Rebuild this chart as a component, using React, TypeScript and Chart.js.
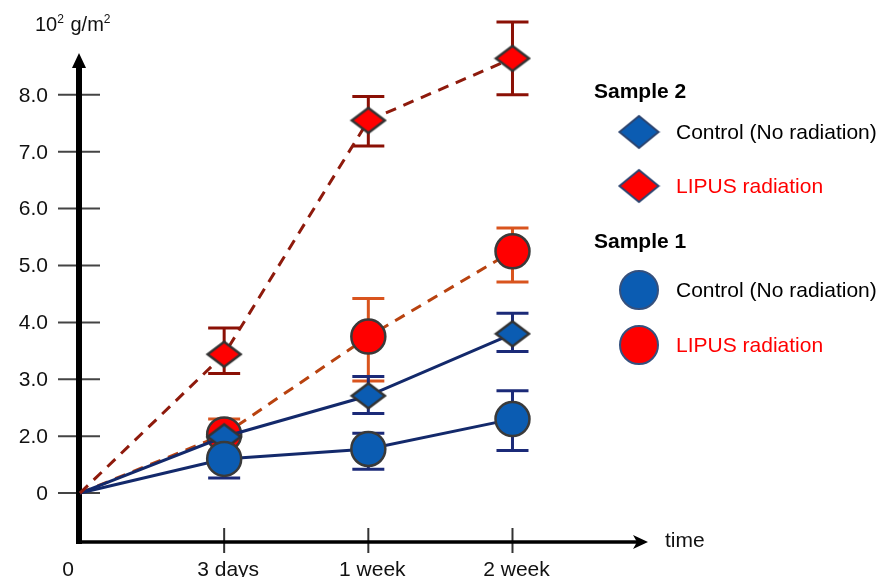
import React, { useEffect, useRef } from 'react';
import { Chart, registerables } from 'chart.js';

Chart.register(...registerables);

// ---------- data ----------
const timeLabels = ['0', '3 days', '1 week', '2 week'];
const timeIndex = [0, 1, 2, 3];
const yTickValues = [0, 2, 3, 4, 5, 6, 7, 8];

const groupLabels = ['Sample 2', 'Sample 1'];
const controlLabel = 'Control (No radiation)';
const lipusLabel = 'LIPUS radiation';

// Sample 2 (diamonds)
const s2ControlMean = [0, 1.98, 2.71, 3.8];
const s2ControlLow: (number | null)[] = [null, null, 2.4, 3.49];
const s2ControlHigh: (number | null)[] = [null, null, 3.05, 4.16];

const s2LipusMean = [0, 3.44, 7.55, 8.64];
const s2LipusLow: (number | null)[] = [null, 3.1, 7.1, 8.0];
const s2LipusHigh: (number | null)[] = [null, 3.9, 7.97, 9.28];

// Sample 1 (circles)
const s1ControlMean = [0, 1.2, 1.55, 2.3];
const s1ControlLow: (number | null)[] = [null, 0.53, 0.84, 1.5];
const s1ControlHigh: (number | null)[] = [null, null, 2.05, 2.8];

const s1LipusMean = [0, 2.03, 3.75, 5.25];
const s1LipusLow: (number | null)[] = [null, 1.47, 2.97, 4.71];
const s1LipusHigh: (number | null)[] = [null, 2.3, 4.42, 5.66];

// ---------- helpers ----------
const FONT = "'Liberation Sans', Arial, Helvetica, sans-serif";
const BLUE = '#0B5CB2';
const RED = '#FF0000';

// broken y axis: the region between "0" and "2.0" is compressed
function toAxis(v: number) {
  return v >= 2 ? v : 1 + v / 2;
}

function makeDiamond(w: number, h: number, fill: string, stroke: string, lw: number) {
  const c = document.createElement('canvas');
  c.width = Math.ceil(w + lw * 2);
  c.height = Math.ceil(h + lw * 2);
  const g = c.getContext('2d')!;
  const cx = c.width / 2;
  const cy = c.height / 2;
  g.beginPath();
  g.moveTo(cx - w / 2, cy);
  g.lineTo(cx, cy - h / 2);
  g.lineTo(cx + w / 2, cy);
  g.lineTo(cx, cy + h / 2);
  g.closePath();
  g.fillStyle = fill;
  g.fill();
  g.lineWidth = lw;
  g.strokeStyle = stroke;
  g.lineJoin = 'miter';
  g.stroke();
  return c;
}

function series(mean: number[]) {
  return mean.map((v, i) => ({ x: timeIndex[i], y: toAxis(v) }));
}

const errorBarPlugin = {
  id: 'errorBars',
  beforeDatasetDraw(chart: any, args: any) {
    const ds: any = chart.data.datasets[args.index];
    if (!ds.errLow) return;
    const ctx = chart.ctx;
    const xs = chart.scales.x;
    const ys = chart.scales.y;
    ctx.save();
    ctx.strokeStyle = ds.errColor;
    ctx.lineWidth = 3;
    ds.errLow.forEach((lo: number | null, i: number) => {
      const hi = ds.errHigh[i];
      if (lo == null && hi == null) return;
      const x = xs.getPixelForValue(timeIndex[i]);
      const yMid = ys.getPixelForValue(toAxis(ds.mean[i]));
      const yLo = lo == null ? yMid : ys.getPixelForValue(toAxis(lo));
      const yHi = hi == null ? yMid : ys.getPixelForValue(toAxis(hi));
      ctx.beginPath();
      ctx.moveTo(x, yLo);
      ctx.lineTo(x, yHi);
      if (lo != null) {
        ctx.moveTo(x - 16, yLo);
        ctx.lineTo(x + 16, yLo);
      }
      if (hi != null) {
        ctx.moveTo(x - 16, yHi);
        ctx.lineTo(x + 16, yHi);
      }
      ctx.stroke();
    });
    ctx.restore();
  },
};

const axesPlugin = {
  id: 'axesDecor',
  beforeDatasetsDraw(chart: any) {
    const ctx = chart.ctx;
    const xs = chart.scales.x;
    const ys = chart.scales.y;
    const area = chart.chartArea;
    const x0 = xs.getPixelForValue(0) - 1;
    const yBase = area.bottom;
    ctx.save();

    // y tick dashes
    ctx.strokeStyle = '#444';
    ctx.lineWidth = 2;
    yTickValues.forEach((v) => {
      const y = ys.getPixelForValue(toAxis(v));
      ctx.beginPath();
      ctx.moveTo(x0 - 21, y);
      ctx.lineTo(x0 + 21, y);
      ctx.stroke();
    });

    // y tick labels
    ctx.fillStyle = '#111';
    ctx.font = `21px ${FONT}`;
    ctx.textAlign = 'right';
    ctx.textBaseline = 'middle';
    yTickValues.forEach((v) => {
      const y = ys.getPixelForValue(toAxis(v));
      ctx.fillText(v === 0 ? '0' : v.toFixed(1), x0 - 31, y + 1);
    });

    // x ticks
    ctx.strokeStyle = '#333';
    ctx.lineWidth = 2;
    timeIndex.slice(1).forEach((t) => {
      const x = xs.getPixelForValue(t);
      ctx.beginPath();
      ctx.moveTo(x, yBase - 14);
      ctx.lineTo(x, yBase + 11);
      ctx.stroke();
    });

    // x labels
    ctx.textAlign = 'center';
    ctx.textBaseline = 'middle';
    timeIndex.forEach((t, i) => {
      const x = t === 0 ? x0 - 11 : xs.getPixelForValue(t) + 4;
      ctx.fillText(timeLabels[i], x, yBase + 28);
    });
    ctx.textAlign = 'left';
    ctx.fillText('time', area.right + 17, yBase - 1);

    // y axis line + arrow
    ctx.strokeStyle = '#000';
    ctx.fillStyle = '#000';
    ctx.lineWidth = 6;
    ctx.beginPath();
    ctx.moveTo(x0, yBase + 2);
    ctx.lineTo(x0, area.top + 10);
    ctx.stroke();
    ctx.beginPath();
    ctx.moveTo(x0, area.top - 2);
    ctx.lineTo(x0 - 7, area.top + 13);
    ctx.lineTo(x0 + 7, area.top + 13);
    ctx.closePath();
    ctx.fill();

    // x axis line + arrow
    ctx.lineWidth = 3.5;
    ctx.beginPath();
    ctx.moveTo(x0 - 3, yBase);
    ctx.lineTo(area.right - 8, yBase);
    ctx.stroke();
    ctx.beginPath();
    ctx.moveTo(area.right, yBase);
    ctx.lineTo(area.right - 15, yBase - 7);
    ctx.lineTo(area.right - 11, yBase);
    ctx.lineTo(area.right - 15, yBase + 7);
    ctx.closePath();
    ctx.fill();

    // unit title 10² g/m²
    ctx.fillStyle = '#111';
    ctx.textAlign = 'left';
    ctx.textBaseline = 'alphabetic';
    let tx = 35;
    const by = 31;
    const parts: [string, boolean][] = [['10', false], ['2', true], [' g/m', false], ['2', true]];
    parts.forEach(([s, sup]) => {
      ctx.font = sup ? `12px ${FONT}` : `20px ${FONT}`;
      ctx.fillText(s, tx, sup ? by - 8 : by);
      tx += ctx.measureText(s).width + (sup ? 1 : 0);
    });

    ctx.restore();
  },
};

const legendPlugin = {
  id: 'customLegend',
  afterDraw(chart: any) {
    const ctx = chart.ctx;
    const ds: any[] = chart.data.datasets;
    const headerX = 594;
    const markerX = 639;
    const textX = 676;
    const rows = [
      { kind: 'header', text: groupLabels[0], y: 92 },
      { kind: 'item', ds: ds[0], y: 132 },
      { kind: 'item', ds: ds[1], y: 186 },
      { kind: 'header', text: groupLabels[1], y: 242 },
      { kind: 'item', ds: ds[2], y: 290 },
      { kind: 'item', ds: ds[3], y: 345 },
    ];
    ctx.save();
    ctx.textBaseline = 'middle';
    ctx.textAlign = 'left';
    rows.forEach((r: any) => {
      if (r.kind === 'header') {
        ctx.font = `bold 21px ${FONT}`;
        ctx.fillStyle = '#000';
        ctx.fillText(r.text, headerX, r.y);
        return;
      }
      const d = r.ds;
      if (d.shape === 'diamond') {
        const img = makeDiamond(39, 32, d.fillColor, '#2B4470', 2);
        ctx.drawImage(img, markerX - img.width / 2, r.y - img.height / 2);
      } else {
        ctx.beginPath();
        ctx.arc(markerX, r.y, 19, 0, Math.PI * 2);
        ctx.fillStyle = d.fillColor;
        ctx.fill();
        ctx.lineWidth = 2;
        ctx.strokeStyle = '#34507E';
        ctx.stroke();
      }
      ctx.font = `21px ${FONT}`;
      ctx.fillStyle = d.textColor;
      ctx.fillText(d.label, textX, r.y + 1);
    });
    ctx.restore();
  },
};

export default function App() {
  const ref = useRef<HTMLCanvasElement | null>(null);

  useEffect(() => {
    if (!ref.current) return;
    const blueDiamond = makeDiamond(33, 25, BLUE, '#333', 2.5);
    const redDiamond = makeDiamond(33, 25, RED, '#333', 2.5);
    const pr = (r: number) => timeIndex.map((t) => (t === 0 ? 0 : r));

    const datasets: any[] = [
      {
        label: controlLabel,
        shape: 'diamond',
        fillColor: BLUE,
        textColor: '#000',
        data: series(s2ControlMean),
        mean: s2ControlMean,
        errLow: s2ControlLow,
        errHigh: s2ControlHigh,
        errColor: '#1B2A78',
        borderColor: '#13296B',
        borderWidth: 3,
        pointStyle: blueDiamond,
        pointRadius: pr(14),
        order: 2,
      },
      {
        label: lipusLabel,
        shape: 'diamond',
        fillColor: RED,
        textColor: RED,
        data: series(s2LipusMean),
        mean: s2LipusMean,
        errLow: s2LipusLow,
        errHigh: s2LipusHigh,
        errColor: '#8B1005',
        borderColor: '#8E1A0C',
        borderDash: [11, 8],
        borderWidth: 3,
        pointStyle: redDiamond,
        pointRadius: pr(14),
        order: 0,
      },
      {
        label: controlLabel,
        shape: 'circle',
        fillColor: BLUE,
        textColor: '#000',
        data: series(s1ControlMean),
        mean: s1ControlMean,
        errLow: s1ControlLow,
        errHigh: s1ControlHigh,
        errColor: '#1B2A78',
        borderColor: '#13296B',
        borderWidth: 3,
        pointStyle: 'circle',
        pointRadius: pr(17),
        pointBackgroundColor: BLUE,
        pointBorderColor: '#3A3A3A',
        pointBorderWidth: 2.5,
        order: 1,
      },
      {
        label: lipusLabel,
        shape: 'circle',
        fillColor: RED,
        textColor: RED,
        data: series(s1LipusMean),
        mean: s1LipusMean,
        errLow: s1LipusLow,
        errHigh: s1LipusHigh,
        errColor: '#D9541E',
        borderColor: '#B8420F',
        borderDash: [11, 8],
        borderWidth: 3,
        pointStyle: 'circle',
        pointRadius: pr(17),
        pointBackgroundColor: RED,
        pointBorderColor: '#3A3A3A',
        pointBorderWidth: 2.5,
        order: 3,
      },
    ];
    datasets.forEach((d) => {
      d.tension = 0;
      d.fill = false;
      d.clip = false;
      d.pointHoverRadius = d.pointRadius;
    });

    const chart = new Chart(ref.current, {
      type: 'line',
      data: { datasets },
      options: {
        animation: false,
        responsive: false,
        devicePixelRatio: 1,
        layout: { padding: { left: 80, top: 55, right: 234, bottom: 35 } },
        scales: {
          x: { type: 'linear', min: 0, max: 3.94, display: false },
          y: { type: 'linear', min: 0.14, max: 8.7, display: false },
        },
        plugins: {
          legend: { display: false },
          tooltip: { enabled: false },
        },
      },
      plugins: [axesPlugin, errorBarPlugin, legendPlugin],
    } as any);

    return () => chart.destroy();
  }, []);

  return (
    <div style={{ position: 'absolute', left: 0, top: 0, width: 882, height: 577, background: '#fff' }}>
      <canvas ref={ref} width={882} height={577} style={{ display: 'block', width: 882, height: 577 }} />
    </div>
  );
}
